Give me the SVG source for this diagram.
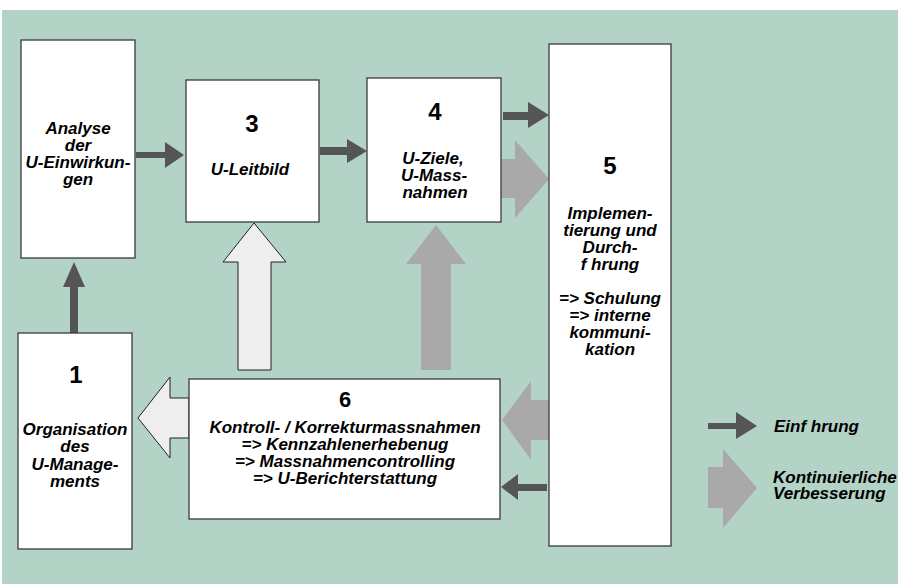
<svg xmlns="http://www.w3.org/2000/svg" width="898" height="584" viewBox="0 0 898 584">
<style>
.bg{fill:#b3d3c6}
.box{fill:#ffffff;stroke:#3a3a3a;stroke-width:1.3}
.t{font-family:"Liberation Sans",Arial,sans-serif;font-weight:bold;font-style:italic;font-size:17px;fill:#000;text-anchor:middle}
.n{font-family:"Liberation Sans",Arial,sans-serif;font-weight:bold;font-size:24px;fill:#000;text-anchor:middle}
.lg{font-family:"Liberation Sans",Arial,sans-serif;font-weight:bold;font-style:italic;font-size:17px;fill:#000}
.dark{fill:#555555}
.gray{fill:#a9a9a9}
.light{fill:#eeeeee;stroke:#222;stroke-width:1}
</style>
<rect x="0" y="0" width="898" height="584" fill="#ffffff"/>
<rect class="bg" x="2" y="10" width="896" height="574"/>
<g id="connectors">
<polygon class="dark" points="136,152 165,152 165,142 184,155 165,168 165,158 136,158"/>
<polygon class="dark" points="320,147 347,147 347,139 367,151 347,163 347,155 320,155"/>
<polygon class="dark" points="503,112 528,112 528,102 549,115 528,128 528,120 503,120"/>
<polygon class="dark" points="70,333 70,287 63,287 74,262 85,287 78,287 78,333"/>
<polygon class="dark" points="547,484 518,484 518,474 501,487 518,500 518,491 547,491"/>
<polygon class="gray" points="501,159 515,159 515,140 549,179 515,218 515,198 501,198"/>
<polygon class="gray" points="421,370 421,264 406,264 436,225 466,264 451,264 451,370"/>
<polygon class="gray" points="549,400 531,400 531,381 502,420 531,460 531,440 549,440"/>
<polygon class="light" points="238,370 238,262 223,262 254,223 286,262 271,262 271,370 238,370"/>
<polygon class="light" points="189,398 170,398 170,377 138,418 170,458 170,438 189,438"/>
</g>
<g id="node-analyse">
<rect class="box" x="21" y="40" width="114" height="218"/>
<text class="t" x="78" y="134">Analyse</text>
<text class="t" x="78" y="151">der</text>
<text class="t" x="78" y="168">U-Einwirkun-</text>
<text class="t" x="78" y="185">gen</text>
</g>
<g id="node-1">
<rect class="box" x="18" y="333" width="114" height="216"/>
<text class="n" x="76" y="383">1</text>
<text class="t" x="75" y="435">Organisation</text>
<text class="t" x="75" y="452">des</text>
<text class="t" x="75" y="470">U-Manage-</text>
<text class="t" x="75" y="487">ments</text>
</g>
<g id="node-3">
<rect class="box" x="186" y="80" width="133" height="142"/>
<text class="n" x="252" y="132">3</text>
<text class="t" x="250" y="175">U-Leitbild</text>
</g>
<g id="node-4">
<rect class="box" x="367" y="78" width="134" height="144"/>
<text class="n" x="435" y="120">4</text>
<text class="t" x="433" y="164">U-Ziele,</text>
<text class="t" x="434" y="181">U-Mass-</text>
<text class="t" x="435" y="198">nahmen</text>
</g>
<g id="node-5">
<rect class="box" x="549" y="44" width="122" height="502"/>
<text class="n" x="610" y="174">5</text>
<text class="t" x="610" y="219">Implemen-</text>
<text class="t" x="610" y="236">tierung und</text>
<text class="t" x="610" y="253">Durch-</text>
<text class="t" x="610" y="270">f hrung</text>
<text class="t" x="610" y="304">=&gt; Schulung</text>
<text class="t" x="610" y="321">=&gt; interne</text>
<text class="t" x="610" y="338">kommuni-</text>
<text class="t" x="610" y="355">kation</text>
</g>
<g id="node-6">
<rect class="box" x="189" y="379" width="311" height="140"/>
<text class="n" x="345" y="407" style="font-size:22px">6</text>
<text class="t" x="345" y="433">Kontroll- / Korrekturmassnahmen</text>
<text class="t" x="345" y="450">=&gt; Kennzahlenerhebenug</text>
<text class="t" x="345" y="467">=&gt; Massnahmencontrolling</text>
<text class="t" x="345" y="484">=&gt; U-Berichterstattung</text>
</g>
<g id="legend">
<polygon class="dark" points="708,423 736,423 736,412 757,426 736,439 736,429 708,429"/>
<polygon class="gray" points="708,467 723,467 723,449 757,488 723,528 723,508 708,508"/>
<text class="lg" x="774" y="432">Einf hrung</text>
<text class="lg" x="773" y="483">Kontinuierliche</text>
<text class="lg" x="773" y="499">Verbesserung</text>
</g>
</svg>
